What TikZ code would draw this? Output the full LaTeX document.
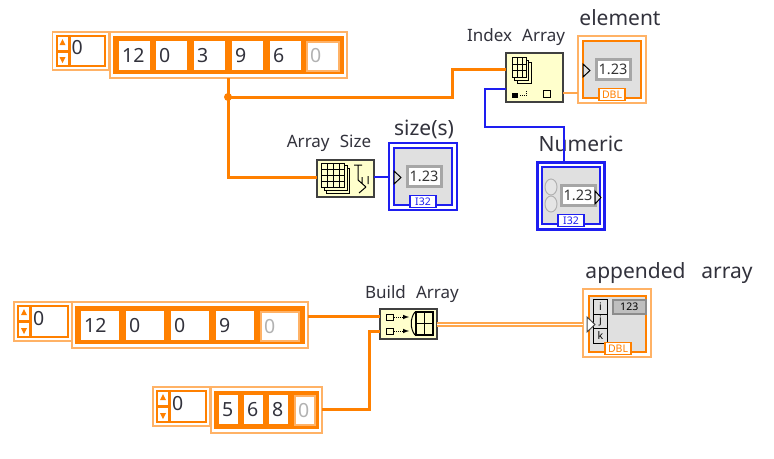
\documentclass[tikz,border=0pt]{standalone}
\usepackage{fontspec}
\setmainfont{Noto Sans}
\usetikzlibrary{positioning}
\definecolor{lvorange}{RGB}{255,128,0}
\definecolor{lvpale}{RGB}{255,178,102}
\definecolor{lvblue}{RGB}{30,30,240}
\definecolor{lvpanel}{RGB}{224,224,224}
\definecolor{lvyellow}{RGB}{255,255,204}
\definecolor{lvtext}{RGB}{50,50,60}
\newcommand{\digitfont}{\fontsize{19.5}{21}\selectfont}
\newcommand{\capfont}{\fontsize{17}{19}\selectfont\spaceskip=.6em}
\newcommand{\namefont}{\fontsize{21}{23}\selectfont\spaceskip=.75em}
\newcommand{\tagfont}{\fontsize{10.5}{11}\selectfont\bfseries}
\tikzset{
    framebox/.style = {rectangle, draw=lvpale, line width=1.5pt, fill=white, anchor=north west, inner sep=0pt, outer sep=0pt},
    arrbody/.style = {rectangle, fill=lvorange, anchor=north west, inner sep=0pt},
    cell/.style = {rectangle, fill=white, anchor=north west, inner sep=0pt, inner xsep=3pt, text width=#1-6pt, minimum height=29pt, align=left, font=\digitfont, text=lvtext},
    ghost/.style = {cell=#1, text=gray!60, draw=lvpale, line width=2pt},
    opbox/.style = {rectangle, draw=black!75, line width=1.5pt, fill=lvyellow, anchor=north west, inner sep=0pt, outer sep=0pt},
    caption/.style = {font=\capfont, text=lvtext, inner sep=0pt},
    tname/.style = {font=\namefont, text=lvtext, inner sep=0pt},
    wireo/.style = {draw=lvorange, line width=3pt},
    wirep/.style = {draw=lvorange!70!white, line width=2pt},
    wireb/.style = {draw=lvblue, line width=1.5pt},
    grid/.style = {draw=black, line width=1pt, fill=lvyellow},
}
% index control with spinner, x y width height
\newcommand{\indexbox}[5]{
  \node[framebox, minimum width=#4pt, minimum height=#5pt] at (#2,#3) (#1) {};
  \fill[lvorange] (#2+3,#3+3) rectangle (#2+#4-3,#3+#5-3);
  \fill[white] (#2+18,#3+5) rectangle (#2+#4-5,#3+#5-5);
  \fill[white] (#2+5,#3+5) rectangle (#2+15,#3+#5-5);
  \fill[lvorange] (#2+5,#3+#5/2-1.5) rectangle (#2+15,#3+#5/2+1.5);
  \fill[lvorange] (#2+10,#3+7) -- (#2+7,#3+13) -- (#2+13,#3+13) -- cycle;
  \fill[lvorange] (#2+10,#3+#5-7) -- (#2+7,#3+#5-13) -- (#2+13,#3+#5-13) -- cycle;
  \node[font=\digitfont, text=lvtext, inner sep=0pt, anchor=west] at (#2+19,#3+#5/2-3) {0};
}
% terminal with panel, x y outer inner tag display-x
\newcommand{\indicator}[7]{
  \node[framebox, draw=#4, minimum width=68pt, minimum height=67pt] at (#2,#3) (#1) {};
  \draw[draw=#5, line width=1.5pt, fill=lvpanel] (#2+5,#3+5) rectangle (#2+63,#3+62);
  \node[rectangle, draw=black!35, line width=3pt, fill=white, inner sep=0pt, minimum width=34pt, minimum height=20pt, font=\fontsize{14.5}{15}\selectfont, text=black!80] at (#2+#7,#3+33) {1.23};
  \node[rectangle, draw=#5, line width=1.5pt, fill=white, inner sep=0pt, minimum width=26pt, minimum height=12pt, font=\tagfont, text=#5, anchor=south] at (#2+34,#3+65) (#1tag) {#6};
}
\begin{document}
\begin{tikzpicture}[x=1pt,y=-1pt]
\useasboundingbox (0,0) rectangle (774,458);
%
% first row
\indexbox{idxa}{52.5}{32}{56}{38}
\node[framebox, minimum width=237pt, minimum height=46pt] at (110,32) (arra) {};
\node[arrbody, minimum width=231pt, minimum height=38pt] at (113,36) (bodya) {};
\node[cell=31pt] at (119,40.5) (a1) {12};
\node[cell=31pt] at (156,40.5) (a2) {0};
\node[cell=31pt] at (194,40.5) (a3) {3};
\node[cell=31pt] at (232,40.5) (a4) {9};
\node[cell=31pt] at (270,40.5) (a5) {6};
\node[ghost=32pt] at (306,40.5) (a6) {0};
%
\node[opbox, minimum width=57pt, minimum height=49pt] at (506,53) (idxop) {};
\node[caption] at (516,37) (idxcap) {Index Array};
\indicator{ele}{578}{36}{lvpale}{lvorange}{DBL}{35}
\node[tname] at (620,18) (elecap) {element};
\indicator{num}{537}{162}{lvblue}{lvblue}{I32}{41}
\draw[lvblue, line width=3pt] (537,162) rectangle (604,229);
\node[tname] at (581,144) (numcap) {Numeric};
\node[opbox, minimum width=57pt, minimum height=37pt] at (317,160) (sizeop) {};
\node[caption] at (329,143) (sizecap) {Array Size};
\indicator{siz}{389}{143}{lvblue}{lvblue}{I32}{35}
\node[tname] at (424,129) (sizname) {size(s)};
%
% second row
\indexbox{idxb}{14}{302}{58}{39}
\node[framebox, minimum width=236pt, minimum height=46pt] at (72,302) (arrb) {};
\node[arrbody, minimum width=230pt, minimum height=38pt] at (75,306) (bodyb) {};
\node[cell=38pt] at (81,311) (b1) {12};
\node[cell=38pt] at (126,311) (b2) {0};
\node[cell=38pt] at (171,311) (b3) {0};
\node[cell=38pt] at (216,311) (b4) {9};
\node[ghost=38pt] at (260,311) (b5) {0};
%
\indexbox{idxc}{153}{387}{57}{39}
\node[framebox, minimum width=111pt, minimum height=46pt] at (211,387) (arrc) {};
\node[arrbody, minimum width=105pt, minimum height=38pt] at (214,391) (bodyc) {};
\node[cell=19pt] at (219,395) (c1) {5};
\node[cell=19pt] at (244,395) (c2) {6};
\node[cell=19pt] at (269,395) (c3) {8};
\node[ghost=20pt] at (294,395) (c4) {0};
%
\node[opbox, minimum width=57pt, minimum height=30pt] at (380,309) (bldop) {};
\node[caption] at (412,294) (bldcap) {Build Array};
%
\node[framebox, minimum width=68pt, minimum height=68pt] at (583,289) (app) {};
\draw[lvorange, line width=1.5pt, fill=lvpanel] (589,296) rectangle (646,352);
\node[tname] at (669,273) (appcap) {appended array};
\foreach \yy/\ll in {299/i,313.5/j,328/k}{
  \node[rectangle, draw=black, line width=1pt, fill=lvpanel, anchor=north west, inner sep=0pt, minimum width=14pt, minimum height=14.5pt, font=\tagfont] at (593,\yy) {\ll};
}
\node[rectangle, draw=black!45, line width=1.5pt, fill=black!25, anchor=north west, inner sep=0pt, minimum width=33pt, minimum height=14pt, font=\tagfont] at (612,299) (apphd) {123};
\node[rectangle, draw=lvorange, line width=1.5pt, fill=white, inner sep=0pt, minimum width=26pt, minimum height=12pt, font=\tagfont, text=lvorange, anchor=south] at (618,355) (apptag) {DBL};
%
% wires
\coordinate (jun) at (228,97);
\coordinate (bendi) at (452,69);
\coordinate (bendn) at (485,127);
\coordinate (bendb) at (369,331);
\draw[wireo] (arra.south -| jun) -- (jun);
\draw[wireo] (jun) -- (jun |- 0,177) -- (sizeop.west |- 0,177);
\draw[wireo] (jun) -| (bendi) -- (bendi -| idxop.west);
\fill[lvorange] (jun) circle (4pt);
\draw[wireb] (idxop.west |- 0,89) -| (bendn) -| (num.north -| 564,0);
\draw[wirep] (idxop.east |- 0,93) -- (ele.west |- 0,93);
\draw[wireb] (sizeop.east |- 0,177) -- (siz.west |- 0,177);
\draw[wireo] (arrb.east |- 0,316) -- (bldop.west |- 0,316);
\draw[wireo] (arrc.east |- 0,409) -| (bendb) -- (bendb -| bldop.west);
\draw[wirep, line width=5pt] (bldop.east) -- (app.west |- bldop.east);
\draw[white, line width=1pt] (bldop.east) -- (app.west |- bldop.east);
%
% small arrowheads on the terminals
\draw[black, line width=1pt, fill=lvpanel] (583,64) -- (590,70.5) -- (583,77) -- cycle;
\draw[black, line width=1pt, fill=lvpanel] (394,171) -- (401,177.5) -- (394,184) -- cycle;
\draw[black, line width=1pt, fill=lvpanel] (595,191) -- (601,197.5) -- (595,204) -- cycle;
\draw[black!70, line width=1pt, fill=white] (587,317) -- (595,324.5) -- (587,332) -- cycle;
% spinner of the numeric control
\draw[black!30, line width=1pt, fill=black!10] (551,187) ellipse (6pt and 8pt);
\draw[black!30, line width=1pt, fill=black!10] (551,204) ellipse (6pt and 8pt);
%
% icons in the operators
\draw[grid] (517,62) rectangle (531,83);
\draw[grid] (514,60) rectangle (528,80);
\draw[grid] (512,57) rectangle (526,77);
\draw[black, line width=1pt] (512,64) -- (526,64) (512,70) -- (526,70) (517,57) -- (517,77) (522,57) -- (522,77);
\fill[black] (512,93) rectangle (518,98);
\draw[black, line width=1pt, densely dotted] (520,95) -- (527,95) (526,91) -- (526,95);
\draw[black, line width=1pt, fill=lvyellow] (543,90) rectangle (550,97);
%
\draw[grid] (326,168) rectangle (349,193);
\draw[grid] (324,165) rectangle (347,190);
\draw[grid] (321,163) rectangle (344,187);
\draw[black, line width=1pt] (321,169) -- (344,169) (321,175) -- (344,175) (321,181) -- (344,181) (327,163) -- (327,187) (333,163) -- (333,187) (339,163) -- (339,187);
\draw[black, line width=1pt] (354,165) -- (362,165) (358,165) -- (358,180) -- (366,187) (362,177) -- (362,183) (368,176) -- (368,184) (359,193) -- (366,187);
%
\draw[black, line width=1pt] (386,314) rectangle (393,320) (386,328) rectangle (393,334);
\draw[black, line width=1pt, densely dotted, -latex] (394,317) -- (409,317);
\draw[black, line width=1pt, densely dotted, -latex] (394,331) -- (409,331);
\draw[black, line width=1pt] (415,312) .. controls (410,318) and (410,329) .. (415,335);
\draw[black, line width=1.2pt] (416,312) rectangle (433,335) (416,323.5) -- (433,323.5) (424.5,312) -- (424.5,335);
%
\end{tikzpicture}
\end{document}
